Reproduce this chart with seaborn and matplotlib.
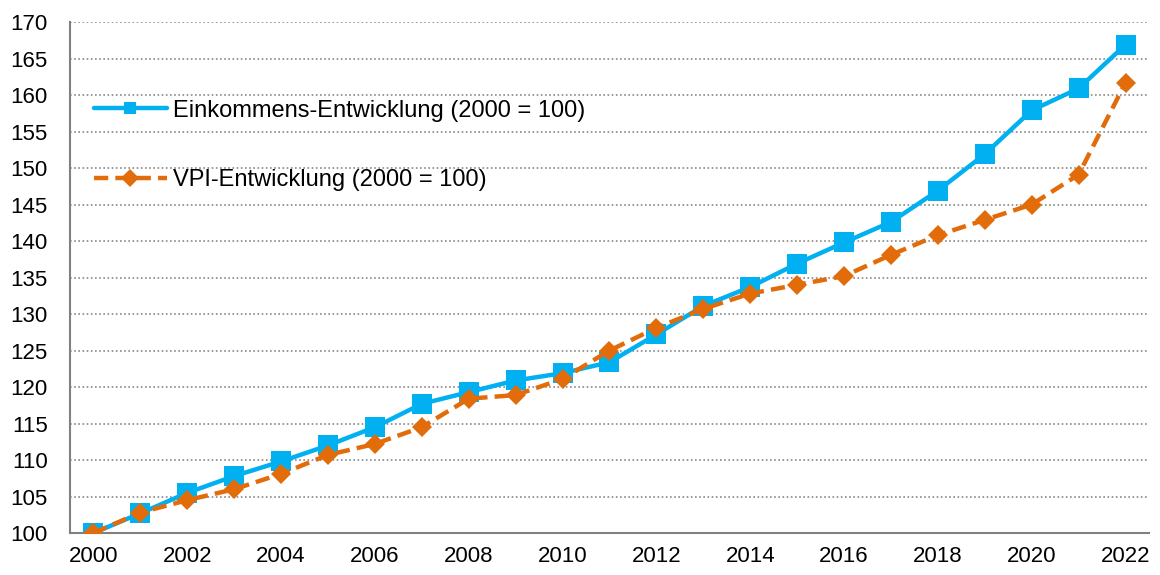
import pandas as pd
import numpy as np
import seaborn as sns
import matplotlib.pyplot as plt
from matplotlib.ticker import MultipleLocator, FixedLocator

sns.set_style("white")
plt.rcParams["font.family"] = ["Liberation Sans", "DejaVu Sans"]
plt.rcParams["text.color"] = "black"

# Daten
jahre = list(range(2000, 2023))
einkommen = [100.0, 102.7, 105.5, 107.8, 109.8, 112.0, 114.5, 117.7, 119.3, 120.9, 121.9, 123.4,
             127.2, 131.1, 133.7, 136.9, 139.8, 142.6, 146.9, 151.9, 157.9, 160.9, 166.9]
vpi = [100.0, 102.8, 104.5, 106.0, 108.1, 110.7, 112.2, 114.5, 118.4, 118.9, 121.1, 125.0,
       128.1, 130.7, 132.8, 134.0, 135.2, 138.1, 140.8, 142.9, 145.0, 149.1, 161.7]
label_eink = "Einkommens-Entwicklung (2000 = 100)"
label_vpi = "VPI-Entwicklung (2000 = 100)"

df = pd.DataFrame({"Jahr": jahre, "Einkommen": einkommen, "VPI": vpi})

fig = plt.figure(figsize=(11.6, 5.75), dpi=100)
ax = fig.add_axes([0.0603, 0.073, 0.9302, 0.8887])

sns.lineplot(data=df, x="Jahr", y="Einkommen", ax=ax, color="#00B0F0", lw=3.2,
             marker="s", markersize=14, markeredgewidth=0, label=label_eink, zorder=3)
sns.lineplot(data=df, x="Jahr", y="VPI", ax=ax, color="#E36C0A", lw=3.2,
             marker="D", markersize=10, markeredgewidth=0, label=label_vpi, zorder=4)
ax.lines[1].set_dashes([3.2, 1.6])

ax.set_xlim(1999.5, 2022.5)
ax.set_ylim(100, 170)
ax.yaxis.set_major_locator(MultipleLocator(5))
ax.xaxis.set_major_locator(FixedLocator(jahre[::2]))
ax.xaxis.set_minor_locator(FixedLocator(np.arange(1999.5, 2023, 1)))
ax.tick_params(axis="x", which="major", length=0, labelsize=16, pad=9, labelcolor="black")
ax.tick_params(axis="x", which="minor", length=6, width=1.5, color="#808080", direction="out")
ax.tick_params(axis="y", which="major", length=6, width=1.5, color="#808080", direction="out",
               labelsize=16, pad=10, labelcolor="black")
ax.set_xlabel("")
ax.set_ylabel("")

ax.grid(axis="y", linestyle=(0, (1, 1.5)), color="#888888", linewidth=1.2)
ax.set_axisbelow(True)

for s in ["top", "right"]:
    ax.spines[s].set_visible(False)
for s in ["left", "bottom"]:
    ax.spines[s].set_color("#808080")
    ax.spines[s].set_linewidth(1.5)

leg = ax.legend(loc="upper left", bbox_to_anchor=(0.022, 0.848), frameon=False, fontsize=17,
                handlelength=3.1, handletextpad=0.25, labelspacing=2.0, borderpad=0,
                borderaxespad=0)
for h in leg.legend_handles:
    h.set_markersize(9)

fig.savefig("out.png", dpi=100)
